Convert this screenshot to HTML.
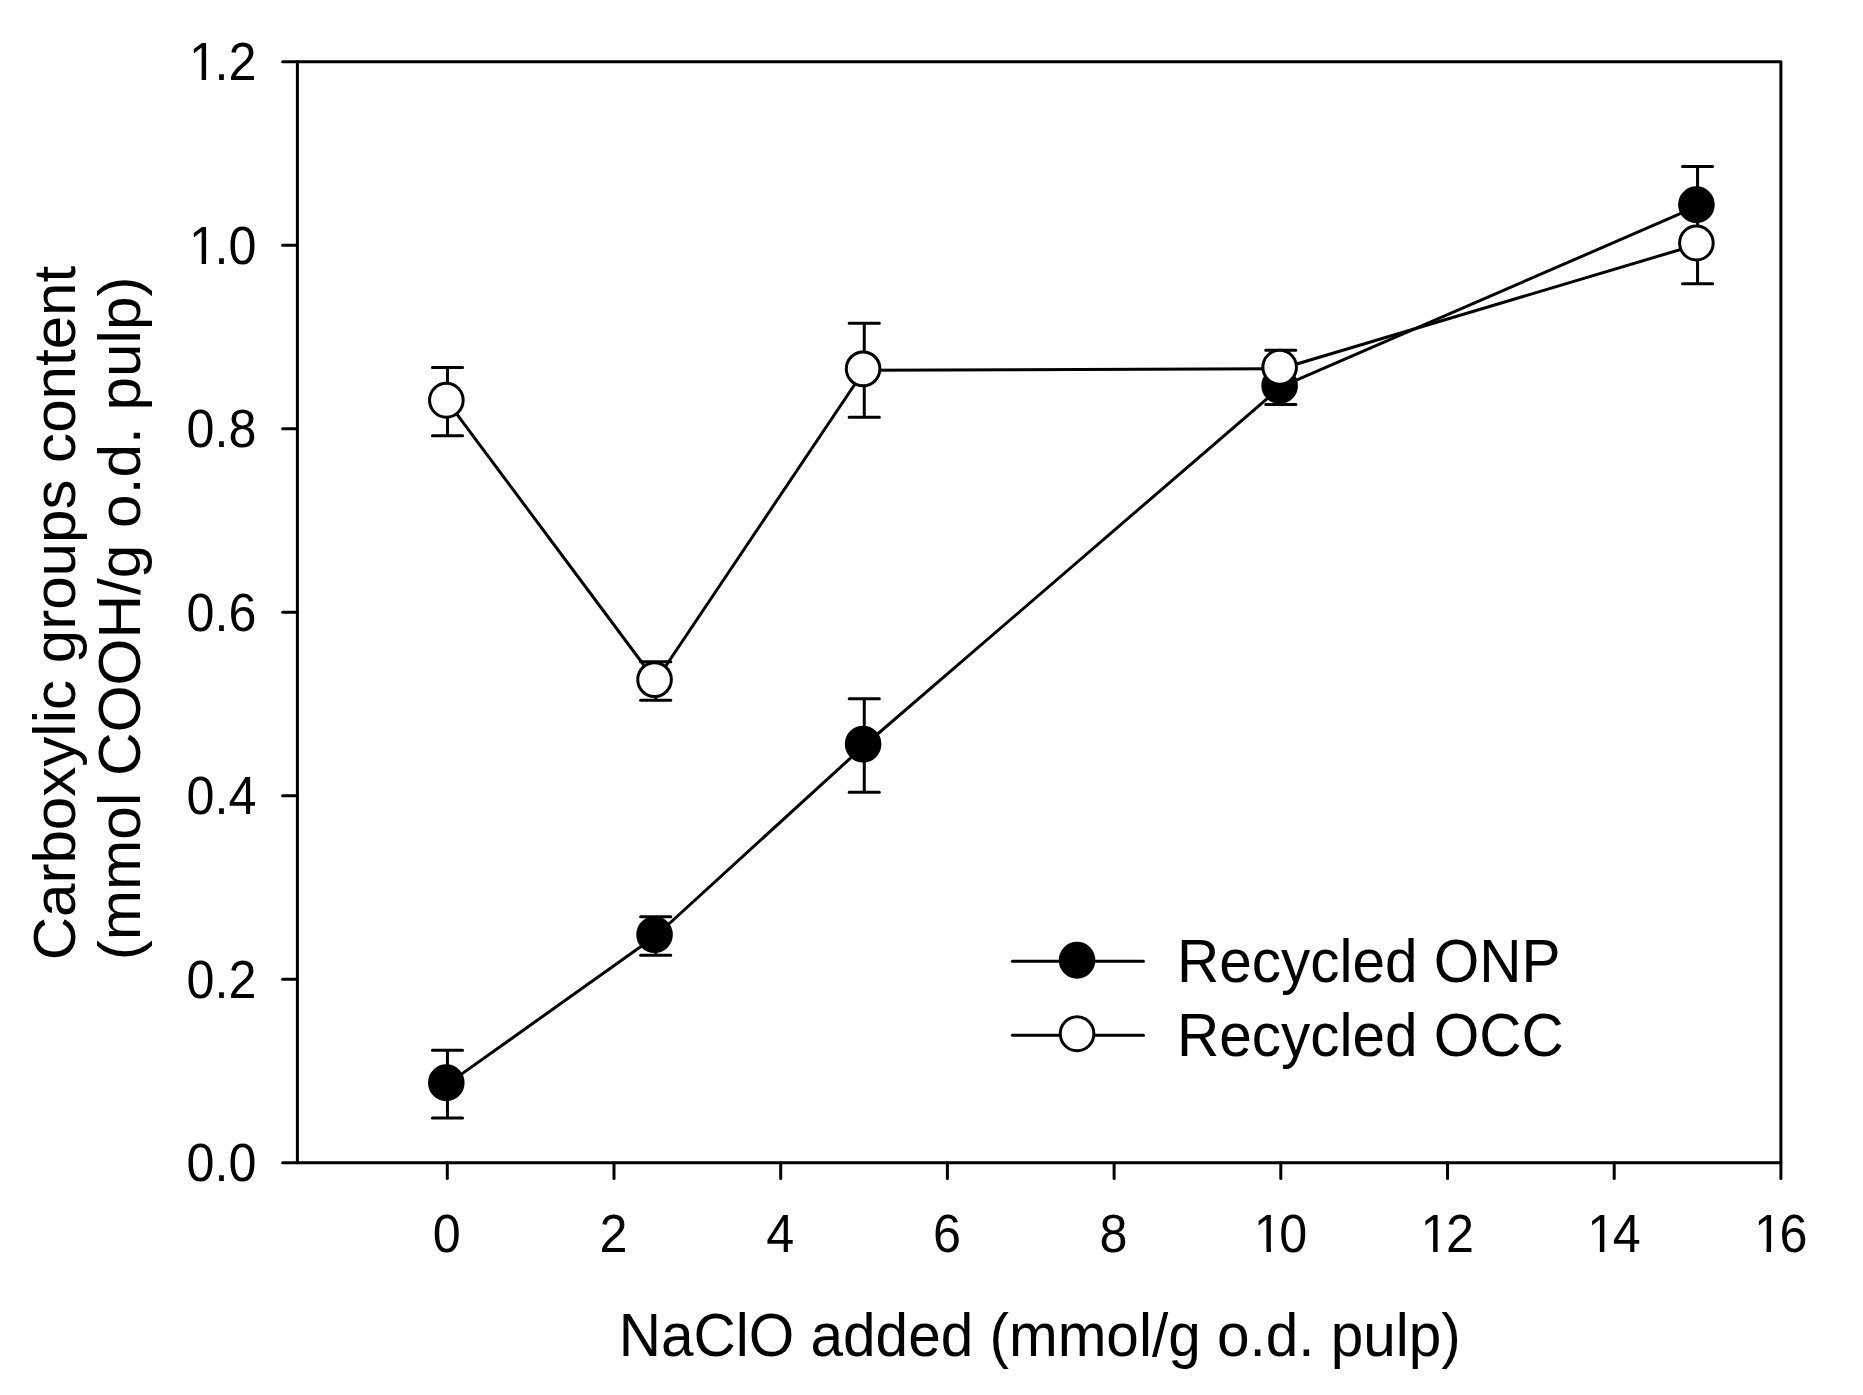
<!DOCTYPE html>
<html lang="en"><head><meta charset="utf-8"><title>Carboxylic groups content vs NaClO added</title>
<style>html,body{margin:0;padding:0;background:#fff}body{width:1863px;height:1395px;overflow:hidden}svg{display:block}text{font-family:"Liberation Sans",sans-serif;fill:#000}.t{font-size:50.3px}.l{font-size:58.5px}.s{stroke:#000;stroke-width:3;stroke-linecap:round;stroke-linejoin:round;fill:none}</style></head><body>
<svg width="1863" height="1395" viewBox="0 0 1863 1395">
<rect width="1863" height="1395" fill="#fff"/>
<g class="s">
<path d="M297.4 61.75H1780.9V1162.8H297.4Z"/>
<path d="M282.6 1162.80H297.4"/>
<path d="M282.6 979.30H297.4"/>
<path d="M282.6 795.80H297.4"/>
<path d="M282.6 612.30H297.4"/>
<path d="M282.6 428.80H297.4"/>
<path d="M282.6 245.30H297.4"/>
<path d="M282.6 61.80H297.4"/>
<path d="M447.30 1162.8V1178.6"/>
<path d="M614.00 1162.8V1178.6"/>
<path d="M780.70 1162.8V1178.6"/>
<path d="M947.40 1162.8V1178.6"/>
<path d="M1114.10 1162.8V1178.6"/>
<path d="M1280.80 1162.8V1178.6"/>
<path d="M1447.50 1162.8V1178.6"/>
<path d="M1614.20 1162.8V1178.6"/>
<path d="M1780.90 1162.8V1178.6"/>
</g>
<g class="t">
<text transform="translate(186.48,1181.40) scale(1,1.078)">0.0</text>
<text transform="translate(186.48,997.90) scale(1,1.078)">0.2</text>
<text transform="translate(186.48,814.40) scale(1,1.078)">0.4</text>
<text transform="translate(186.48,630.90) scale(1,1.078)">0.6</text>
<text transform="translate(186.48,447.40) scale(1,1.078)">0.8</text>
<text transform="translate(186.48,263.90) scale(1,1.078)"><tspan x="2.5">1</tspan><tspan x="27.974">.0</tspan></text>
<text transform="translate(186.48,80.40) scale(1,1.078)"><tspan x="2.5">1</tspan><tspan x="27.974">.2</tspan></text>
</g>
<g class="t">
<text transform="translate(432.81,1252.3) scale(1,1.078)">0</text>
<text transform="translate(599.51,1252.3) scale(1,1.078)">2</text>
<text transform="translate(766.21,1252.3) scale(1,1.078)">4</text>
<text transform="translate(932.91,1252.3) scale(1,1.078)">6</text>
<text transform="translate(1099.61,1252.3) scale(1,1.078)">8</text>
<text transform="translate(1251.33,1252.3) scale(1,1.078)"><tspan x="2.5">1</tspan><tspan x="27.974">0</tspan></text>
<text transform="translate(1418.03,1252.3) scale(1,1.078)"><tspan x="2.5">1</tspan><tspan x="27.974">2</tspan></text>
<text transform="translate(1584.73,1252.3) scale(1,1.078)"><tspan x="2.5">1</tspan><tspan x="27.974">4</tspan></text>
<text transform="translate(1751.43,1252.3) scale(1,1.078)"><tspan x="2.5">1</tspan><tspan x="27.974">6</tspan></text>
</g>
<path fill="#fff" d="M191.81 259.25H201.62V264.90H191.81ZM206.07 259.25H215.49V264.90H206.07Z"/>
<path fill="#fff" d="M191.81 75.75H201.62V81.40H191.81ZM206.07 75.75H215.49V81.40H206.07Z"/>
<path fill="#fff" d="M1256.66 1247.65H1266.47V1253.30H1256.66ZM1270.92 1247.65H1280.34V1253.30H1270.92Z"/>
<path fill="#fff" d="M1423.36 1247.65H1433.17V1253.30H1423.36ZM1437.62 1247.65H1447.04V1253.30H1437.62Z"/>
<path fill="#fff" d="M1590.06 1247.65H1599.87V1253.30H1590.06ZM1604.32 1247.65H1613.74V1253.30H1604.32Z"/>
<path fill="#fff" d="M1756.76 1247.65H1766.57V1253.30H1756.76ZM1771.02 1247.65H1780.44V1253.30H1771.02Z"/>
<text class="l" text-anchor="middle" transform="translate(1039.8,1356.2) scale(1,1.05)">NaClO added (mmol/g o.d. pulp)</text>
<text class="l" style="font-size:58px" text-anchor="middle" transform="translate(75.2,613.1) scale(1.014,1.036) rotate(-90)">Carboxylic groups content</text>
<text class="l" style="font-size:58.25px" text-anchor="middle" transform="translate(139.7,618.3) scale(1.014,1.036) rotate(-90)">(mmol COOH/g o.d. pulp)</text>
<g class="s">
<polyline points="447.45,1084.10 655.70,936.00 864.25,745.50 1280.80,386.90 1697.55,206.20"/>
<path d="M447.45 1050.30V1117.90M432.35 1050.30H462.55M432.35 1117.90H462.55"/>
<path d="M655.70 916.70V955.30M640.60 916.70H670.80M640.60 955.30H670.80"/>
<path d="M864.25 698.80V792.20M849.15 698.80H879.35M849.15 792.20H879.35"/>
<path d="M1280.80 369.40V404.40M1265.70 369.40H1295.90M1265.70 404.40H1295.90"/>
<path d="M1697.55 166.60V245.80M1682.45 166.60H1712.65M1682.45 245.80H1712.65"/>
<ellipse cx="446.30" cy="1082.70" rx="16.8" ry="16.95" fill="#000"/>
<ellipse cx="654.55" cy="934.60" rx="16.8" ry="16.95" fill="#000"/>
<ellipse cx="863.10" cy="744.10" rx="16.8" ry="16.95" fill="#000"/>
<ellipse cx="1279.65" cy="385.50" rx="16.8" ry="16.95" fill="#000"/>
<ellipse cx="1696.40" cy="204.80" rx="16.8" ry="16.95" fill="#000"/>
</g>
<g class="s">
<polyline points="447.50,401.65 655.70,681.00 864.25,370.25 1280.80,368.70 1697.55,244.45"/>
<path d="M447.50 367.60V435.70M432.40 367.60H462.60M432.40 435.70H462.60"/>
<path d="M655.70 661.75V700.25M640.60 661.75H670.80M640.60 700.25H670.80"/>
<path d="M864.25 323.30V417.20M849.15 323.30H879.35M849.15 417.20H879.35"/>
<path d="M1280.80 350.20V387.20M1265.70 350.20H1295.90M1265.70 387.20H1295.90"/>
<path d="M1697.55 205.20V283.70M1682.45 205.20H1712.65M1682.45 283.70H1712.65"/>
<ellipse cx="446.35" cy="400.25" rx="16.8" ry="16.95" fill="#fff"/>
<ellipse cx="654.55" cy="679.60" rx="16.8" ry="16.95" fill="#fff"/>
<ellipse cx="863.10" cy="368.85" rx="16.8" ry="16.95" fill="#fff"/>
<ellipse cx="1279.65" cy="367.30" rx="16.8" ry="16.95" fill="#fff"/>
<ellipse cx="1696.40" cy="243.05" rx="16.8" ry="16.95" fill="#fff"/>
</g>
<g class="s">
<path d="M1012.4 961.2H1143.4"/><ellipse cx="1077.05" cy="960.25" rx="16.8" ry="16.95" fill="#000"/>
<path d="M1012.4 1035.3H1143.4"/><ellipse cx="1077.05" cy="1033.7" rx="16.8" ry="16.95" fill="#fff"/>
</g>
<text class="l" transform="translate(1177,982) scale(1,1.05)">Recycled ONP</text>
<text class="l" transform="translate(1177,1056) scale(1,1.05)">Recycled OCC</text>
</svg></body></html>
